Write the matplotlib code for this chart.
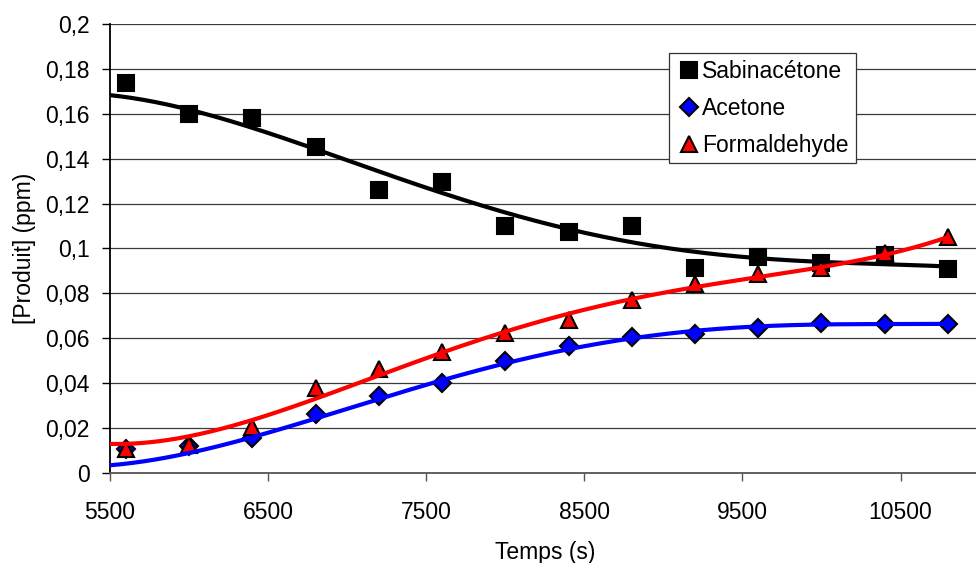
import numpy as np
import matplotlib
matplotlib.use("Agg")
import matplotlib.pyplot as plt

plt.rcParams['font.family'] = ['Liberation Sans', 'DejaVu Sans']

# measured points
temps = [5600, 6000, 6400, 6800, 7200, 7600, 8000, 8400, 8800, 9200, 9600, 10000, 10400, 10800]
sabinacetone = [0.1737, 0.160, 0.158, 0.145, 0.126, 0.1296, 0.110, 0.1075, 0.110,
                0.0913, 0.0962, 0.0935, 0.097, 0.0908]
acetone = [0.0105, 0.0122, 0.0155, 0.0262, 0.0345, 0.0402, 0.0497, 0.0567, 0.0605,
           0.0618, 0.0647, 0.0670, 0.0665, 0.0662]
formaldehyde = [0.0105, 0.0125, 0.0205, 0.0380, 0.0465, 0.0538, 0.0625, 0.0680, 0.0770,
                0.0840, 0.0885, 0.0915, 0.0980, 0.1050]

# trend curves
trend_t = [5500, 6000, 6500, 7000, 7500, 8000, 8500, 9000, 9500, 10000, 10500, 10800]
trend_sab = [0.1684, 0.1617, 0.1514, 0.139, 0.128, 0.1155, 0.1072, 0.100, 0.0965, 0.094, 0.093, 0.0918]
trend_ace = [0.0036, 0.0089, 0.0169, 0.0295, 0.0395, 0.049, 0.0561, 0.0615, 0.0647, 0.0665, 0.0668, 0.066]
trend_form = [0.0129, 0.0169, 0.025, 0.0375, 0.0525, 0.0637, 0.0715, 0.080, 0.086, 0.0925, 0.0987, 0.105]

y_ticks = [0, 0.02, 0.04, 0.06, 0.08, 0.1, 0.12, 0.14, 0.16, 0.18, 0.2]
y_labels = ['0', '0,02', '0,04', '0,06', '0,08', '0,1', '0,12', '0,14', '0,16', '0,18', '0,2']
x_ticks = [5500, 6500, 7500, 8500, 9500, 10500]

fs = 16.5

fig = plt.figure(figsize=(9.76, 5.63), dpi=100)
ax = fig.add_axes([0.1127, 0.1599, 0.891, 0.7975])

series = [
    ('Sabinacétone', sabinacetone, trend_sab, 's', 'black', 12),
    ('Acetone', acetone, trend_ace, 'D', '#0000FF', 9),
    ('Formaldehyde', formaldehyde, trend_form, '^', '#FF0000', 12),
]

xs = np.linspace(trend_t[0], trend_t[-1], 300)
for name, vals, tr, mk, col, ms in series:
    ax.plot(temps, vals, linestyle='none', marker=mk, markersize=ms,
            markerfacecolor=col, markeredgecolor='black', markeredgewidth=1.5,
            label=name, zorder=3)
for name, vals, tr, mk, col, ms in series:
    coef = np.polyfit(np.array(trend_t, float), np.array(tr), 4)
    ax.plot(xs, np.polyval(coef, xs), color=col, linewidth=3, zorder=4)

ax.set_xlim(5500, 11000)
ax.set_ylim(0, 0.2)
ax.set_yticks(y_ticks)
ax.set_yticklabels(y_labels)
ax.set_xticks(x_ticks)
ax.set_xticklabels([str(t) for t in x_ticks])
ax.tick_params(labelsize=fs, length=6, width=1, colors='black')
ax.tick_params(axis='x', pad=15, color='#555555', length=5.5)
ax.tick_params(axis='y', pad=8.5)

ax.grid(axis='y', color='#3a3a3a', linewidth=0.9)
ax.set_axisbelow(True)
ax.spines['top'].set_visible(False)
ax.spines['right'].set_visible(False)
ax.spines['left'].set_linewidth(1.3)
ax.spines['bottom'].set_color('#555555')
ax.spines['bottom'].set_linewidth(1.3)

ax.set_xlabel('Temps (s)', fontsize=fs, labelpad=12)
ax.set_ylabel('[Produit] (ppm)', fontsize=fs, labelpad=7)

leg = ax.legend(loc='upper left', bbox_to_anchor=(0.643, 0.935), fontsize=fs,
                frameon=True, fancybox=False, borderpad=0.3, handletextpad=0.05,
                handlelength=1.1, labelspacing=0.6, borderaxespad=0)
leg.get_frame().set_edgecolor('#333333')
leg.get_frame().set_linewidth(0.9)
leg.get_frame().set_alpha(1)
for h, s in zip(leg.legend_handles, [11, 9, 11]):
    h.set_markersize(s)

fig.savefig('out.png', dpi=100)
